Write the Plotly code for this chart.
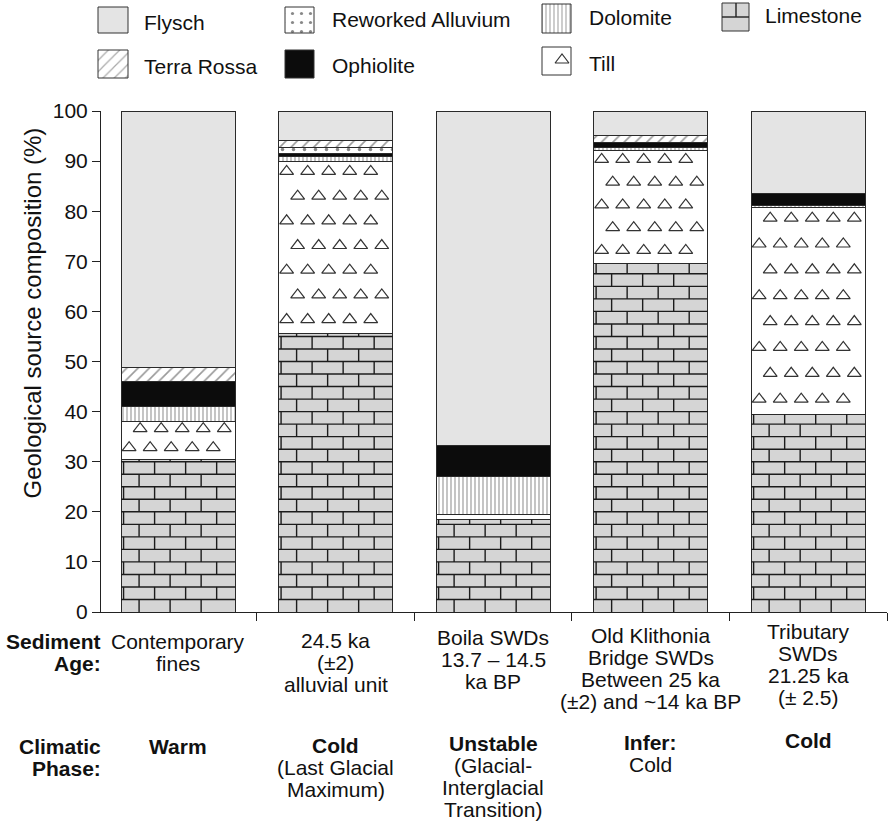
import math
import plotly.graph_objects as go

W, H = 891, 822
FONT = "Liberation Sans, Arial, Helvetica, sans-serif"
INK = "#111111"

# ---- data: % composition of each sediment unit, stacked bottom -> top ----
categories = ["Contemporary fines", "24.5 ka alluvial unit", "Boila SWDs",
              "Old Klithonia Bridge SWDs", "Tributary SWDs"]
limestone = [30.5, 55.5, 18.5, 69.5, 39.5]
till = [7.6, 34.5, 1.0, 22.7, 41.3]
dolomite = [3.0, 1.0, 7.5, 0.6, 0.4]
ophiolite = [5.0, 0.6, 6.3, 1.0, 2.4]
reworked_alluvium = [None, 1.2, None, None, None]
terra_rossa = [2.8, 1.4, None, 1.4, None]
flysch = [51.1, 5.8, 66.7, 4.8, 16.4]

y_ticks = [0, 10, 20, 30, 40, 50, 60, 70, 80, 90, 100]

sediment_age = [
    ["Contemporary", "fines"],
    ["24.5 ka", "(±2)", "alluvial unit"],
    ["Boila SWDs", "13.7 – 14.5", "ka BP"],
    ["Old Klithonia", "Bridge SWDs", "Between 25 ka", "(±2) and ~14 ka BP"],
    ["Tributary", "SWDs", "21.25 ka", "(± 2.5)"],
]
climatic_phase = [
    ["<b>Warm</b>"],
    ["<b>Cold</b>", "(Last Glacial", "Maximum)"],
    ["<b>Unstable</b>", "(Glacial-", "Interglacial", "Transition)"],
    ["<b>Infer:</b>", "Cold"],
    ["<b>Cold</b>"],
]

# ---- styles ----
FLYSCH_C = "#e4e4e4"
LIME_C = "#d5d5d5"
EDGE = "#2a2a2a"
BAR_W = 0.725
xs = list(range(len(categories)))

layers = [
    ("Limestone", limestone, dict(color=LIME_C)),
    ("Till", till, dict(color="white")),
    ("Dolomite", dolomite, dict(color="white", pattern=dict(
        shape="|", fgcolor="#3a3a3a", bgcolor="white", size=4, solidity=0.3))),
    ("Ophiolite", ophiolite, dict(color="#0c0c0c")),
    ("Reworked Alluvium", reworked_alluvium, dict(color="white", pattern=dict(
        shape=".", fgcolor="#111111", bgcolor="white", size=11, solidity=0.08))),
    ("Terra Rossa", terra_rossa, dict(color="white", pattern=dict(
        shape="/", fgcolor="#333333", bgcolor="white", size=8, solidity=0.2))),
    ("Flysch", flysch, dict(color=FLYSCH_C)),
]

fig = go.Figure()
for name, vals, mk in layers:
    fig.add_trace(go.Bar(
        x=xs, y=vals, name=name, width=BAR_W, showlegend=False,
        marker=dict(line=dict(color=EDGE, width=1), **mk),
        hovertemplate=name + ": %{y}%<extra></extra>",
    ))

# ---- limestone brick courses ----
BRICK_H = 2.5
BRICK_W = 0.197
bx, by = [], []
for i, top in enumerate(limestone):
    left, right = i - BAR_W / 2, i + BAR_W / 2
    k = 1
    while k * BRICK_H < top - 0.3:
        bx += [left, right, None]
        by += [k * BRICK_H, k * BRICK_H, None]
        k += 1
    for r in range(math.ceil(top / BRICK_H)):
        y0, y1 = r * BRICK_H, min((r + 1) * BRICK_H, top)
        x = left + BRICK_W * (0.58 if r % 2 == 0 else 0.08)
        while x < right - 0.02:
            if x > left + 0.015:
                bx += [x, x, None]
                by += [y0, y1, None]
            x += BRICK_W
fig.add_trace(go.Scatter(x=bx, y=by, mode="lines", showlegend=False,
                         line=dict(color="#1c1c1c", width=1.4), hoverinfo="skip"))

# ---- till: open triangles scattered through the till band ----
tx, ty = [], []
for i, (base, h) in enumerate(zip(limestone, till)):
    if h < 3:
        continue
    left, right = i - BAR_W / 2, i + BAR_W / 2
    n = max(1, round(h / 5))
    step = h / n
    for r in range(n):
        yc = base + step * (r + 0.5) + 0.4
        x = left + (0.051 if r % 2 == 0 else 0.121)
        while x < right - 0.045:
            tx.append(x)
            ty.append(yc)
            x += 0.1335
fig.add_trace(go.Scatter(x=tx, y=ty, mode="markers", showlegend=False, hoverinfo="skip",
                         marker=dict(symbol="triangle-up-open", size=12,
                                     color="#333333", line=dict(width=1.2))))

# ---- legend drawn on a pixel-space overlay at the top ----
LEG_H = 86


def icon(x0, y0, x1, y1, **fill):
    fig.add_trace(go.Scatter(
        x=[x0, x1, x1, x0, x0], y=[y0, y0, y1, y1, y0], mode="lines",
        fill="toself", line=dict(color="#333333", width=1), showlegend=False,
        hoverinfo="skip", xaxis="x2", yaxis="y2", **fill))


legend_items = [
    ("Flysch", (98, 7, 128, 33), (142, 22), dict(fillcolor=FLYSCH_C)),
    ("Terra Rossa", (98, 50, 128, 78), (142, 66), dict(fillcolor="white", fillpattern=dict(
        shape="/", fgcolor="#555555", bgcolor="white", size=8, solidity=0.15))),
    ("Reworked Alluvium", (285, 7, 314, 33), (330, 19), dict(fillcolor="white", fillpattern=dict(
        shape=".", fgcolor="#111111", bgcolor="white", size=9, solidity=0.1))),
    ("Ophiolite", (285, 50, 314, 78), (330, 65), dict(fillcolor="#0c0c0c")),
    ("Dolomite", (542, 4, 571, 33), (587, 17), dict(fillcolor="white", fillpattern=dict(
        shape="|", fgcolor="#555555", bgcolor="white", size=4, solidity=0.3))),
    ("Till", (542, 47, 571, 75), (587, 63), dict(fillcolor="white")),
    ("Limestone", (722, 3, 749, 31), (763, 15), dict(fillcolor=LIME_C)),
]
for label, (x0, y0, x1, y1), (lx, ly), fill in legend_items:
    icon(x0, y0, x1, y1, **fill)
    fig.add_annotation(x=lx, y=ly, xref="x2", yref="y2", text=label, showarrow=False,
                       xanchor="left", yanchor="middle",
                       font=dict(size=21, color=INK, family=FONT))

# small details inside the Till and Limestone swatches
fig.add_trace(go.Scatter(x=[562], y=[60], mode="markers", xaxis="x2", yaxis="y2",
                         showlegend=False, hoverinfo="skip",
                         marker=dict(symbol="triangle-up-open", size=12, color="#333333",
                                     line=dict(width=1.2))))
fig.add_trace(go.Scatter(x=[722, 749, None, 736, 736], y=[17, 17, None, 3, 17], mode="lines",
                         xaxis="x2", yaxis="y2", showlegend=False, hoverinfo="skip",
                         line=dict(color="#222222", width=1.4)))

# ---- category and climate labels beneath the bars ----
def py(p):
    return 1 - p / H


def label(x, ypix, text, xref="x", xanchor="center"):
    fig.add_annotation(x=x, y=py(ypix), xref=xref, yref="paper", text=text,
                       showarrow=False, xanchor=xanchor, yanchor="middle",
                       font=dict(size=21, color=INK, family=FONT))


LINE = 22
age_top = [641, 640, 637, 635, 631]
phase_top = [746, 745, 743, 742, 740]
for i in xs:
    for j, t in enumerate(sediment_age[i]):
        label(i, age_top[i] + j * LINE, t)
    for j, t in enumerate(climatic_phase[i]):
        label(i, phase_top[i] + j * LINE, t)

for j, t in enumerate(["<b>Sediment</b>", "<b>Age:</b>"]):
    label(103 / W, 641 + j * LINE, t, xref="paper", xanchor="right")
for j, t in enumerate(["<b>Climatic</b>", "<b>Phase:</b>"]):
    label(103 / W, 746 + j * LINE, t, xref="paper", xanchor="right")

fig.add_annotation(x=16 / W, y=py(313), xref="paper", yref="paper",
                   text="Geological source composition (%)", textangle=-90,
                   showarrow=False, font=dict(size=24, color=INK, family=FONT))

# ---- axes / layout ----
fig.update_layout(
    width=W, height=H, barmode="stack",
    margin=dict(l=0, r=0, t=0, b=0, autoexpand=False),
    paper_bgcolor="white", plot_bgcolor="rgba(0,0,0,0)",
    font=dict(family=FONT, color=INK),
    xaxis=dict(domain=[101 / W, 887 / W], range=[-0.49, 4.5], showgrid=False,
               zeroline=False, showline=True, linecolor="#222222", linewidth=1,
               ticks="outside", ticklen=8, tickcolor="#222222", automargin=False,
               tickvals=[0.5, 1.5, 2.5, 3.5, 4.5], showticklabels=False),
    yaxis=dict(domain=[1 - 612 / H, 1 - 111 / H], range=[0, 100], showgrid=False,
               zeroline=False, showline=True, linecolor="#222222", linewidth=1,
               ticks="outside", ticklen=8, tickcolor="#222222", automargin=False,
               tickvals=y_ticks, tickfont=dict(size=21, color=INK, family=FONT)),
    xaxis2=dict(domain=[0, 1], range=[0, W], visible=False, anchor="y2", fixedrange=True,
                automargin=False),
    yaxis2=dict(domain=[1 - LEG_H / H, 1], range=[LEG_H, 0], visible=False, anchor="x2",
                fixedrange=True, automargin=False),
)

fig.write_html("out.html")
